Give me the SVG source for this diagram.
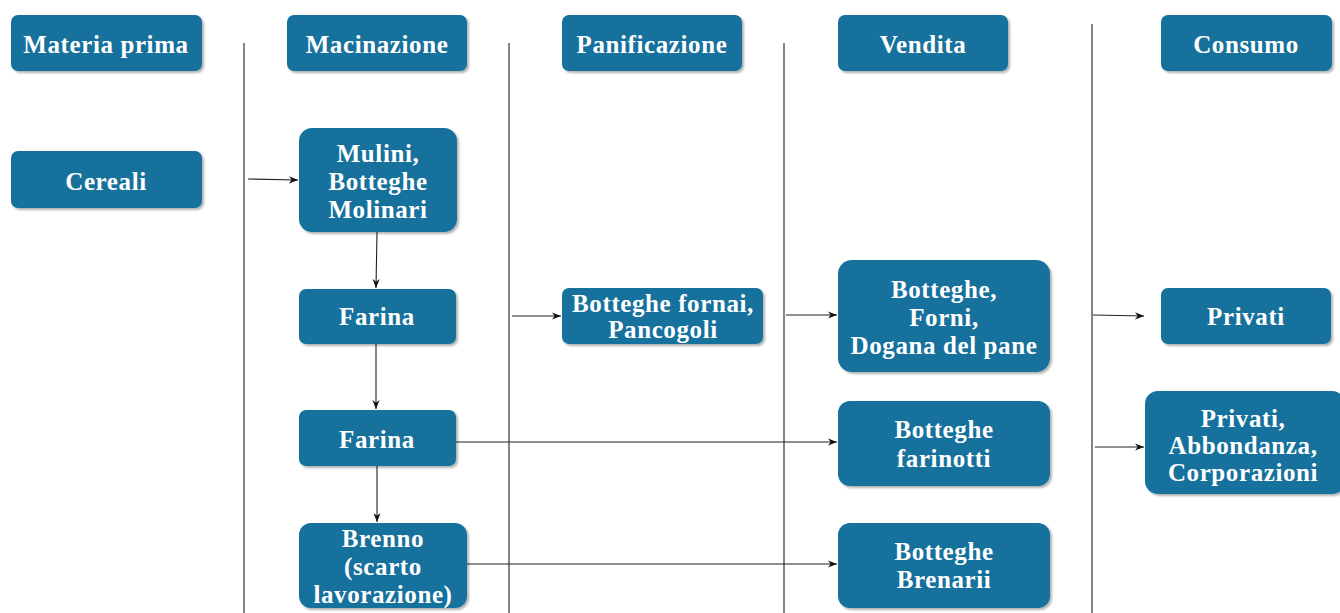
<svg xmlns="http://www.w3.org/2000/svg" width="1340" height="613" viewBox="0 0 1340 613">
<defs>
<filter id="sh" x="-10%" y="-10%" width="130%" height="140%">
<feDropShadow dx="2" dy="2" stdDeviation="1.2" flood-color="#000" flood-opacity="0.3"/>
</filter>
<marker id="ah" viewBox="0 0 10 10" refX="10" refY="5" markerWidth="9" markerHeight="9" markerUnits="userSpaceOnUse" orient="auto">
<path d="M0,1 L10,5 L0,9 L3,5 z" fill="#111"/>
</marker>
</defs>
<style>
.b{fill:#12719c;filter:url(#sh)}
.t{font-weight:bold;font-size:25px;letter-spacing:0.6px;fill:#fff;text-anchor:middle}
.l{stroke:#333;stroke-width:1.2;fill:none}
.a{stroke:#222;stroke-width:1.1;fill:none;marker-end:url(#ah)}
</style>
<rect width="1340" height="613" fill="#fff"/>
<g id="connectors">
<line class="l" x1="244" y1="43" x2="244" y2="613"/>
<line class="l" x1="509" y1="43" x2="509" y2="613"/>
<line class="l" x1="784" y1="43" x2="784" y2="613"/>
<line class="l" x1="1092" y1="24" x2="1092" y2="613"/>
<line class="a" x1="248" y1="179" x2="298" y2="180"/>
<line class="a" x1="377" y1="232" x2="376" y2="288"/>
<line class="a" x1="376" y1="344" x2="376" y2="409"/>
<line class="a" x1="377" y1="466" x2="377" y2="522"/>
<line class="a" x1="512" y1="316" x2="561" y2="316"/>
<line class="a" x1="786" y1="315" x2="837" y2="315"/>
<line class="a" x1="1093" y1="315" x2="1144" y2="316"/>
<line class="a" x1="1095" y1="447" x2="1144" y2="447"/>
<line class="a" x1="456" y1="442" x2="837" y2="442"/>
<line class="a" x1="467" y1="564" x2="837" y2="564"/>
</g>
<g font-family="'Liberation Serif', 'Times New Roman', serif">
<g id="h-materia"><rect class="b" x="11" y="15" width="191" height="56" rx="7"/><text class="t" x="106" y="53">Materia prima</text></g>
<g id="h-macinazione"><rect class="b" x="287" y="15" width="180" height="56" rx="7"/><text class="t" x="377" y="53">Macinazione</text></g>
<g id="h-panificazione"><rect class="b" x="562" y="15" width="180" height="56" rx="7"/><text class="t" x="652" y="53">Panificazione</text></g>
<g id="h-vendita"><rect class="b" x="838" y="15" width="170" height="56" rx="7"/><text class="t" x="923" y="53">Vendita</text></g>
<g id="h-consumo"><rect class="b" x="1161" y="15" width="171" height="56" rx="7"/><text class="t" x="1246" y="53">Consumo</text></g>
<g id="cereali"><rect class="b" x="11" y="151" width="191" height="57" rx="7"/><text class="t" x="106" y="190">Cereali</text></g>
<g id="mulini"><rect class="b" x="299" y="128" width="158" height="104" rx="13"/><text class="t" x="378" y="162">Mulini,<tspan x="378" y="190">Botteghe</tspan><tspan x="378" y="218">Molinari</tspan></text></g>
<g id="farina1"><rect class="b" x="299" y="289" width="157" height="55" rx="7"/><text class="t" x="377" y="325">Farina</text></g>
<g id="farina2"><rect class="b" x="299" y="410" width="157" height="56" rx="7"/><text class="t" x="377" y="448">Farina</text></g>
<g id="brenno"><rect class="b" x="299" y="523" width="168" height="85" rx="12"/><text class="t" x="383" y="547">Brenno<tspan x="383" y="575">(scarto</tspan><tspan x="383" y="603">lavorazione)</tspan></text></g>
<g id="fornai"><rect class="b" x="562" y="288" width="201" height="56" rx="7"/><text class="t" x="663" y="312">Botteghe fornai,<tspan x="663" y="338">Pancogoli</tspan></text></g>
<g id="dogana"><rect class="b" x="838" y="260" width="212" height="112" rx="14"/><text class="t" x="944" y="298">Botteghe,<tspan x="944" y="326">Forni,</tspan><tspan x="944" y="354">Dogana del pane</tspan></text></g>
<g id="farinotti"><rect class="b" x="838" y="401" width="212" height="85" rx="12"/><text class="t" x="944" y="438">Botteghe<tspan x="944" y="467">farinotti</tspan></text></g>
<g id="brenarii"><rect class="b" x="838" y="523" width="212" height="85" rx="12"/><text class="t" x="944" y="560">Botteghe<tspan x="944" y="588">Brenarii</tspan></text></g>
<g id="privati"><rect class="b" x="1161" y="288" width="170" height="56" rx="7"/><text class="t" x="1246" y="325">Privati</text></g>
<g id="abbondanza"><rect class="b" x="1145" y="391" width="200" height="103" rx="13"/><text class="t" x="1243" y="427">Privati,<tspan x="1243" y="454">Abbondanza,</tspan><tspan x="1243" y="481">Corporazioni</tspan></text></g>
</g>
</svg>
